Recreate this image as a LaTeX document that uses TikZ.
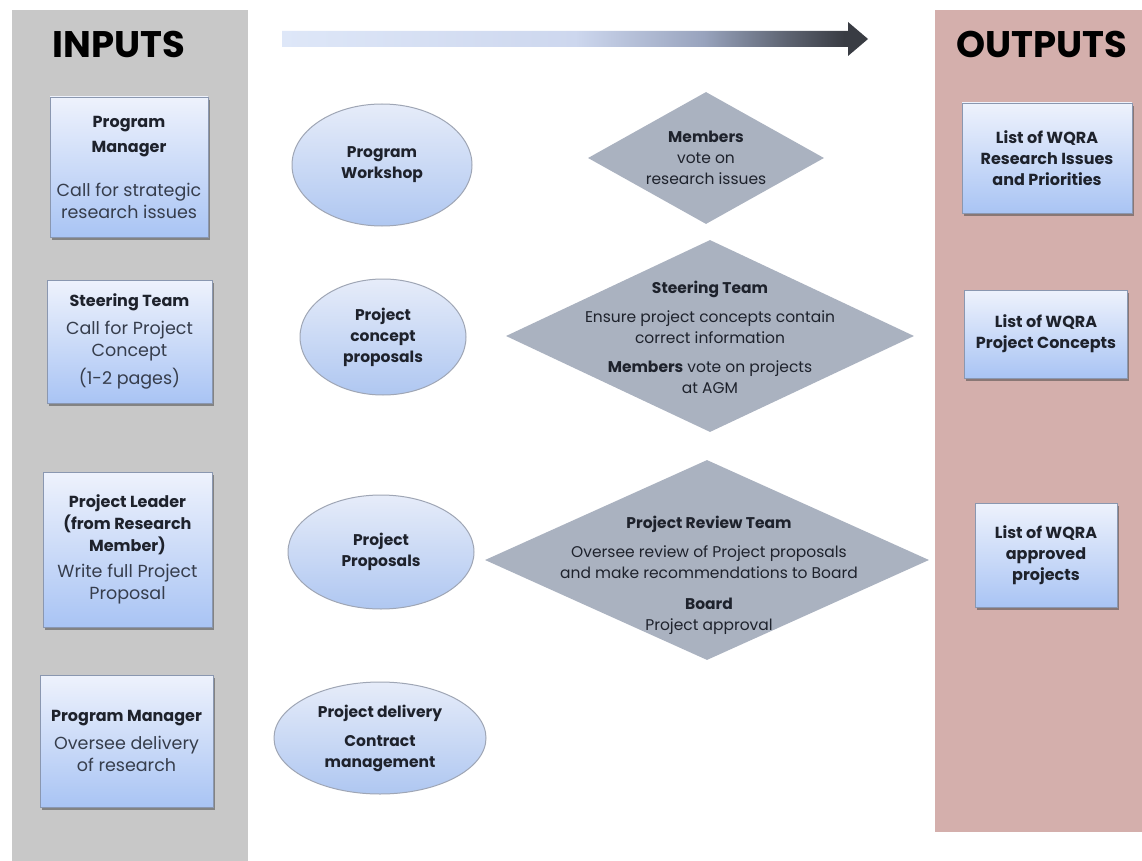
\documentclass[tikz,border=0pt]{standalone}
\usepackage{fontspec}
\setmainfont{Poppins}
\usetikzlibrary{shapes.geometric, shadows, positioning}

\definecolor{inputgray}{HTML}{C8C8C8}
\definecolor{outputpink}{HTML}{D4AFAC}
\definecolor{boxtop}{HTML}{EEF2FC}
\definecolor{boxbottom}{HTML}{A9C4F4}
\definecolor{boxedge}{HTML}{8A97B0}
\definecolor{ovaltop}{HTML}{E6ECF9}
\definecolor{ovalbottom}{HTML}{AFC7F1}
\definecolor{ovaledge}{HTML}{9FA6B5}
\definecolor{votegray}{HTML}{AAB2C0}
\definecolor{inktext}{HTML}{1E222C}
\definecolor{softtext}{HTML}{363D4C}
\definecolor{flowlight}{HTML}{DEE7F8}
\definecolor{flowmidA}{HTML}{CDD7EE}
\definecolor{flowmidB}{HTML}{98A3BD}
\definecolor{flowmidC}{HTML}{5E6472}
\definecolor{flowdark}{HTML}{393C43}

\pgfdeclarehorizontalshading{flowshade}{100bp}{color(0bp)=(flowlight); color(25bp)=(flowlight); color(50bp)=(flowmidA); color(61bp)=(flowmidB); color(68bp)=(flowmidC); color(73bp)=(flowdark); color(100bp)=(flowdark)}

\newcommand{\rolename}[1]{{\fontsize{16}{22}\selectfont\bfseries\color{inktext}#1}}

\tikzstyle{heading} = [font=\fontsize{37}{40}\selectfont\bfseries, text=black, inner sep=0pt]
\tikzstyle{rolebox} = [rectangle, draw=boxedge, line width=0.8pt, top color=boxtop, bottom color=boxbottom, drop shadow={shadow xshift=1.5pt, shadow yshift=-3pt, opacity=0.5, fill=black!75}, align=center, inner sep=0pt, text=softtext, font=\fontsize{17.5}{22}\selectfont]
\tikzstyle{outbox} = [rolebox, text=inktext, font=\fontsize{16}{21}\selectfont\bfseries]
\tikzstyle{stage} = [ellipse, draw=ovaledge, line width=1pt, top color=ovaltop, bottom color=ovalbottom, align=center, inner sep=0pt, text=inktext, font=\fontsize{15.5}{21}\selectfont\bfseries]
\tikzstyle{vote} = [diamond, fill=votegray, inner sep=0pt]
\tikzstyle{votetext} = [align=center, inner sep=0pt, text=inktext, font=\fontsize{15.5}{21}\selectfont]

\begin{document}
\begin{tikzpicture}[x=1pt, y=-1pt]

    \useasboundingbox (0,0) rectangle (1142,861);
    \fill[white] (0,0) rectangle (1142,861);
    \fill[inputgray] (12,10) rectangle (248,861);
    \fill[outputpink] (935,10) rectangle (1142,832);

    \node (inputs) [heading] at (119,44) {INPUTS};
    \node (outputs) [heading] at (1042,44) {OUTPUTS};

    % flow arrow
    \coordinate (flowtail) at (282,39);
    \coordinate (flowtip) at (868,39);
    \shade[shading=flowshade] (282,31) -- (848,31) -- (848,22) -- (flowtip) -- (848,56) -- (848,47) -- (282,47) -- cycle;

    \node (progmgr) [rolebox, minimum width=158pt, minimum height=140pt] at (129,167) {\rolename{Program}\\[3pt]\rolename{Manager}\\[22pt]Call for strategic\\research issues};
    \node (steerin) [rolebox, minimum width=165pt, minimum height=123pt] at (129.5,341.5) {\rolename{Steering Team}\\[6pt]Call for Project\\Concept\\[6pt](1-2 pages)};
    \node (leader) [rolebox, minimum width=169pt, minimum height=155pt] at (127.5,549.5) {\rolename{Project Leader}\\\rolename{(from Research}\\\rolename{Member)}\\[4pt]Write full Project\\Proposal};
    \node (delivmgr) [rolebox, minimum width=173pt, minimum height=132pt] at (126.5,741) {\rolename{Program Manager}\\[6pt]Oversee delivery\\of research};

    \node (workshop) [stage, minimum width=180pt, minimum height=122pt] at (382,165) {Program\\Workshop};
    \node (concepts) [stage, minimum width=166pt, minimum height=116pt] at (383,337) {Project\\concept\\proposals};
    \node (proposals) [stage, minimum width=186pt, minimum height=114pt] at (381,552) {Project\\Proposals};
    \node (delivery) [stage, minimum width=212pt, minimum height=112pt] at (380,738) {Project delivery\\[8pt]Contract\\management};

    \node (membervote) [vote, minimum width=236pt, minimum height=132pt] at (706,158) {};
    \node (membervotetext) [votetext] at (membervote) {\textbf{Members}\\vote on\\research issues};
    \node (steering) [vote, minimum width=408pt, minimum height=192pt] at (710,336) {};
    \node (steeringtext) [votetext] at (710,337) {\textbf{Steering Team}\\[8pt]Ensure project concepts contain\\correct information\\[8pt]\textbf{Members} vote on projects\\at AGM};
    \node (review) [vote, minimum width=444pt, minimum height=200pt] at (707,560) {};
    \node (reviewtext) [votetext] at (709,575) {\textbf{Project Review Team}\\[8pt]Oversee review of Project proposals\\and make recommendations to Board\\[10pt]\textbf{Board}\\Project approval};

    \node (issuelist) [outbox, minimum width=170pt, minimum height=110pt] at (1047,158) {List of WQRA\\Research Issues\\and Priorities};
    \node (conceptlist) [outbox, minimum width=163pt, minimum height=88pt] at (1046,334) {List of WQRA\\Project Concepts};
    \node (projectlist) [outbox, minimum width=142pt, minimum height=104pt] at (1046,555) {List of WQRA\\approved\\projects};

\end{tikzpicture}
\end{document}
